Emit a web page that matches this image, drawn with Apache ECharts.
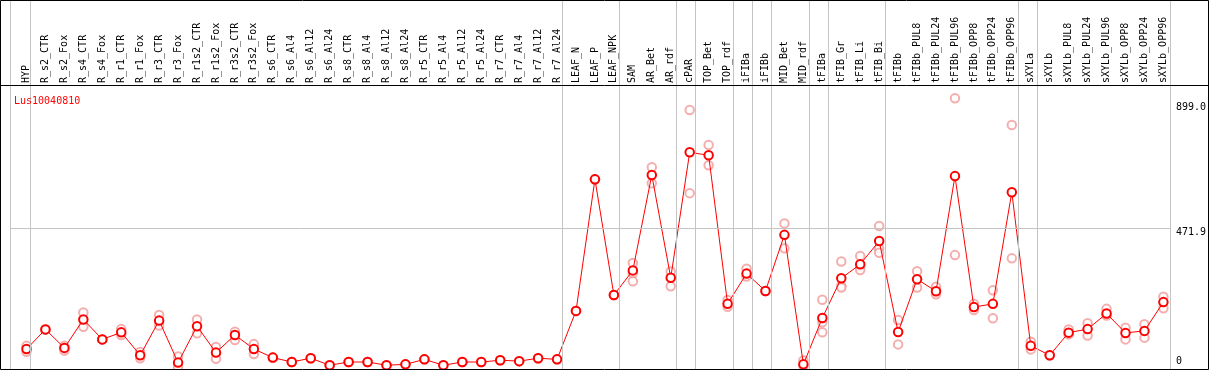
<!DOCTYPE html>
<html>
<head>
<meta charset="utf-8">
<script src="https://cdn.jsdelivr.net/npm/echarts@6/dist/echarts.min.js"></script>
<style>
html,body{margin:0;padding:0;background:#fff;}
#chart{width:1209px;height:370px;}
</style>
</head>
<body>
<div id="chart"></div>
<script>
const geneName = 'Lus10040810';
const categories = ['HYP','R_s2_CTR','R_s2_Fox','R_s4_CTR','R_s4_Fox','R_r1_CTR','R_r1_Fox','R_r3_CTR','R_r3_Fox','R_r1s2_CTR','R_r1s2_Fox','R_r3s2_CTR','R_r3s2_Fox','R_s6_CTR','R_s6_Al4','R_s6_Al12','R_s6_Al24','R_s8_CTR','R_s8_Al4','R_s8_Al12','R_s8_Al24','R_r5_CTR','R_r5_Al4','R_r5_Al12','R_r5_Al24','R_r7_CTR','R_r7_Al4','R_r7_Al12','R_r7_Al24','LEAF_N','LEAF_P','LEAF_NPK','SAM','AR_Bet','AR_rdf','cPAR','TOP_Bet','TOP_rdf','iFIBa','iFIBb','MID_Bet','MID_rdf','tFIBa','tFIB_Gr','tFIB_Li','tFIB_Bi','tFIBb','tFIBb_PUL8','tFIBb_PUL24','tFIBb_PUL96','tFIBb_OPP8','tFIBb_OPP24','tFIBb_OPP96','sXYLa','sXYLb','sXYLb_PUL8','sXYLb_PUL24','sXYLb_PUL96','sXYLb_OPP8','sXYLb_OPP24','sXYLb_OPP96'];
const meanValues = [61,128,65,162,94,118,40,158,15,139,49,109,61,32,17,30,6,17,17,6,9,26,6,17,17,23,20,30,26,191,639,245,329,654,304,731,721,215,318,259,450,9,167,302,350,429,119,299,258,650,204,215,595,72,40,117,129,182,116,123,221];
const rep1 = [72,128,72,186,94,129,51,177,36,162,68,120,78,32,17,30,6,17,17,6,9,26,6,17,17,23,20,30,26,191,639,245,354,680,325,875,756,228,335,259,489,22,229,359,378,480,160,326,273,915,215,261,824,86,40,128,149,198,134,146,239];
const rep2 = [52,128,56,137,94,109,30,141,0,115,28,92,44,32,17,30,6,17,17,6,9,26,6,17,17,23,20,30,26,191,639,245,292,626,275,592,687,205,308,259,404,3,152,276,342,404,77,271,248,381,194,166,370,60,40,111,107,175,94,100,200];
const rep3 = [null,null,null,null,null,null,null,null,null,null,null,null,null,null,null,null,null,null,null,null,null,null,null,null,null,null,null,null,null,null,null,null,320,null,null,null,null,null,null,null,null,null,118,271,330,389,null,null,null,null,null,null,null,null,null,null,null,null,null,null,null];
const groupEnds = ['HYP','R_r7_Al24','LEAF_NPK','AR_rdf','cPAR','TOP_rdf','iFIBa','iFIBb','MID_rdf','tFIBa','tFIB_Bi','tFIBb_OPP96','sXYLa','sXYLb_OPP96'];
const yTickLabels = [0, 471.9, 899.0];
const yMax = 956.9;

const FONT = 'DejaVu Sans Mono';
const RED = '#ff0000';
const PINK = '#f09a9a';
const GRAY = '#c4c4c4';
const lineOffset = 0.21;
const leftEdge = -0.832;

const repPoints = [];
[rep1, rep2, rep3].forEach(arr => arr.forEach((v, i) => { if (v !== null) repPoints.push([i, v]); }));
const breakXs = [leftEdge].concat(groupEnds.map(n => categories.indexOf(n) + lineOffset));

const chart = echarts.init(document.getElementById('chart'), null, {renderer: 'canvas'});
chart.setOption({
  animation: false,
  backgroundColor: '#fff',
  title: {
    text: geneName, left: 9, top: 91,
    textStyle: {color: RED, fontSize: 10, fontFamily: FONT, fontWeight: 'normal'}
  },
  grid: [
    {left: 26.5, right: 42.5, top: 86, bottom: 3},
    {left: 7.5, right: 23.5, top: 0, bottom: 0},
    {left: 7.5, right: 23.5, top: 86, bottom: 3}
  ],
  xAxis: [
    {
      gridIndex: 0, type: 'category', data: categories, position: 'top', boundaryGap: false,
      axisLine: {show: false}, axisTick: {show: false}, splitLine: {show: false},
      axisLabel: {interval: 0, rotate: 90, margin: 3, fontSize: 10, fontFamily: FONT, color: '#000'}
    },
    {gridIndex: 1, type: 'value', min: -1, max: 61, show: false},
    {gridIndex: 2, type: 'value', min: -1, max: 61, show: false}
  ],
  yAxis: [
    {
      gridIndex: 0, type: 'value', min: 0, max: yMax, position: 'right',
      axisLine: {show: false}, axisTick: {show: false}, splitLine: {show: false},
      axisLabel: {
        customValues: yTickLabels, margin: 12.5, fontSize: 10, fontFamily: FONT, color: '#000',
        formatter: v => v === 0 ? '{b|0}' : '{a|' + v.toFixed(1) + '}',
        rich: {
          a: {fontSize: 10, fontFamily: FONT, color: '#000', padding: [8, 0, 0, 0]},
          b: {fontSize: 10, fontFamily: FONT, color: '#000', padding: [0, 0, 11, 0]}
        }
      }
    },
    {gridIndex: 1, type: 'value', min: 0, max: 1, show: false},
    {gridIndex: 2, type: 'value', min: 0, max: yMax, show: false}
  ],
  series: [
    {
      type: 'line', xAxisIndex: 1, yAxisIndex: 1, data: [], silent: true, z: 1,
      markLine: {
        silent: true, symbol: 'none', label: {show: false},
        lineStyle: {color: GRAY, type: 'solid', width: 1},
        data: breakXs.map(x => ({xAxis: x}))
      }
    },
    {
      type: 'line', xAxisIndex: 2, yAxisIndex: 2, data: [], silent: true, z: 1,
      markLine: {
        silent: true, symbol: 'none', label: {show: false},
        lineStyle: {color: GRAY, type: 'solid', width: 1},
        data: [[{coord: [leftEdge, yTickLabels[1]]}, {coord: [breakXs[breakXs.length - 1], yTickLabels[1]]}]]
      }
    },
    {
      type: 'scatter', xAxisIndex: 0, yAxisIndex: 0, data: repPoints, z: 3,
      symbol: 'emptyCircle', symbolSize: 8.5, clip: false,
      itemStyle: {color: PINK, borderColor: PINK, borderWidth: 1.1}
    },
    {
      type: 'line', xAxisIndex: 0, yAxisIndex: 0, data: meanValues, z: 4,
      symbol: 'emptyCircle', symbolSize: 8.5, clip: false, showAllSymbol: true,
      lineStyle: {color: RED, width: 1},
      itemStyle: {color: RED, borderColor: RED, borderWidth: 1.2}
    }
  ],
  graphic: [
    {type: 'rect', z: 100, shape: {x: 0.5, y: 0.5, width: 1208, height: 369}, style: {fill: null, stroke: '#000', lineWidth: 1}},
    {type: 'line', z: 100, shape: {x1: 0, y1: 85.5, x2: 1209, y2: 85.5}, style: {stroke: '#000', lineWidth: 1}}
  ]
});
</script>
</body>
</html>
